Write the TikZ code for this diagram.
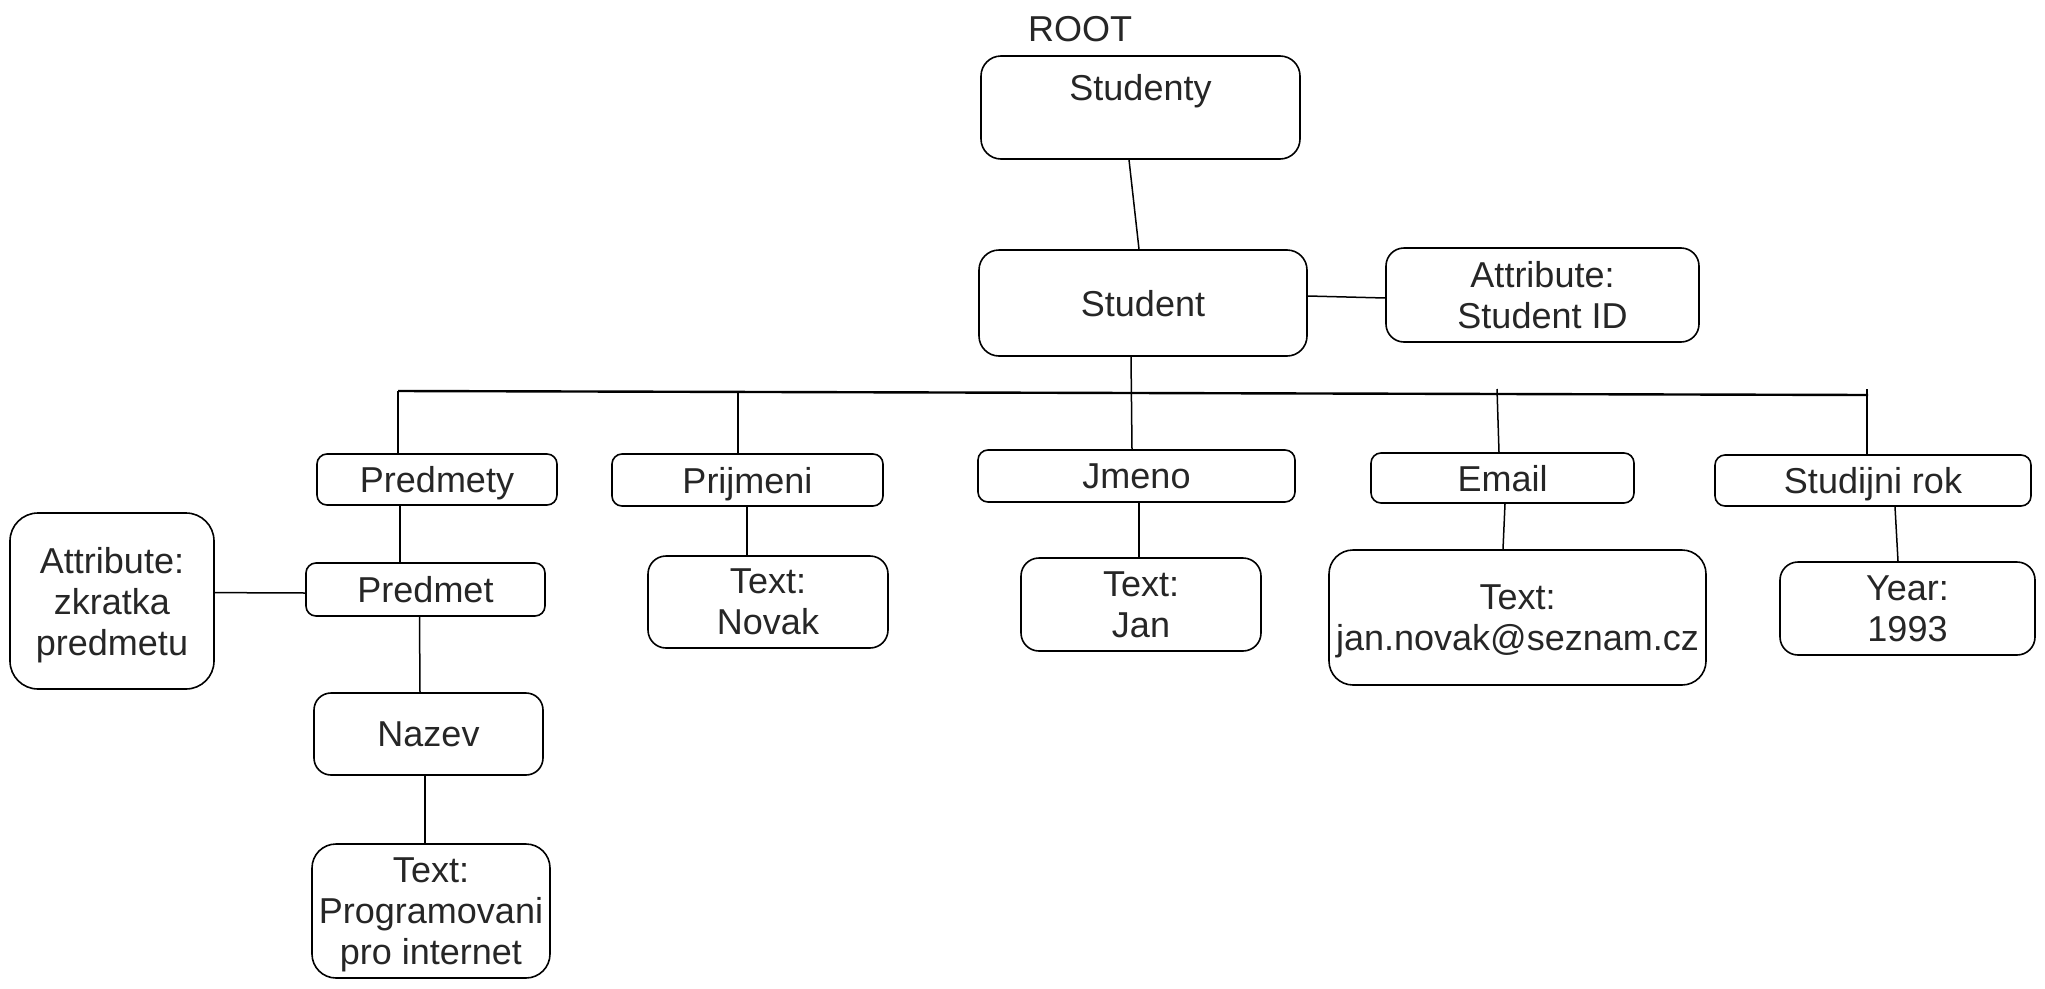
\documentclass[tikz,border=0pt]{standalone}
\usepackage{fontspec}
\setmainfont{Liberation Sans}
\definecolor{txt}{HTML}{262626}
\begin{document}
\begin{tikzpicture}[x=1pt,y=-1pt,
  nbox/.style={draw=black, line width=1.6pt, rounded corners=#1, inner sep=0pt,
    align=center, text=txt, text depth=0pt, font=\fontsize{36}{41}\selectfont},
  nbox/.default=10pt,
  plain/.style={inner sep=0pt, text=txt, text depth=0pt, font=\fontsize{36}{41}\selectfont},
  conn/.style={line width=1.5pt, draw=black},
  bus/.style={line width=2.4pt, draw=black}]
\useasboundingbox (0,0) rectangle (2045,988);

\node[plain] (root) at (1080,29) {ROOT};

\node[nbox=20pt, minimum width=319pt, minimum height=103pt] (studenty) at (1140.5,107.5) {};
\node[plain] (studentytext) at (1140.5,87) {Studenty};

\node[nbox=20pt, minimum width=328pt, minimum height=106pt] (student) at (1143,303) {Student};
\node[nbox=18pt, minimum width=313pt, minimum height=94pt] (attrid) at (1542.5,295) {Attribute:\\Student ID};

\node[nbox, minimum width=240pt, minimum height=51pt] (predmety) at (437,479.5) {Predmety};
\node[nbox, minimum width=271pt, minimum height=52pt] (prijmeni) at (747.5,480) {Prijmeni};
\node[nbox, minimum width=317pt, minimum height=52pt] (jmeno) at (1136.5,476) {Jmeno};
\node[nbox, minimum width=263pt, minimum height=50pt] (email) at (1502.5,478) {Email};
\node[nbox, minimum width=316pt, minimum height=51pt] (rok) at (1873,480.5) {Studijni rok};

\node[nbox, minimum width=239pt, minimum height=53pt] (predmet) at (425.5,589.5) {Predmet};
\node[nbox=28pt, minimum width=204pt, minimum height=176pt] (zkratka) at (112,601) {Attribute:\\zkratka\\predmetu};
\node[nbox=17pt, minimum width=229pt, minimum height=82pt] (nazev) at (428.5,734) {Nazev};
\node[nbox=24pt, minimum width=238pt, minimum height=134pt] (prog) at (431,911) {Text:\\Programovani\\pro internet};

\node[nbox=18pt, minimum width=240pt, minimum height=92pt] (novak) at (768,602) {Text:\\Novak};
\node[nbox=18pt, minimum width=240pt, minimum height=93pt] (jan) at (1141,604.5) {Text:\\Jan};
\node[nbox=24pt, minimum width=377pt, minimum height=135pt] (emailtext) at (1517.5,617.5) {Text:\\jan.novak@seznam.cz};
\node[nbox=18pt, minimum width=255pt, minimum height=93pt] (year) at (1907.5,608.5) {Year:\\1993};

% upper connectors
\draw[conn] ([xshift=-11.5pt]studenty.south) -- ([xshift=-4pt]student.north);
\draw[conn] ([yshift=7pt]student.east) -- ([yshift=-3pt]attrid.west);
\draw[conn] ([xshift=-12pt]student.south) -- ([xshift=-4.5pt]jmeno.north);

% bus
\coordinate (busL) at (398,391);
\coordinate (busR) at (1868,395);
\coordinate (tapB) at (738,392);
\coordinate (tapD) at (1497,389);
\coordinate (tapE) at (1867,389);
\draw[bus] (busL) -- (busR);
\draw[conn] (busL) -- (busL |- predmety.north);
\draw[conn] (tapB) -- (tapB |- prijmeni.north);
\draw[conn] (tapD) -- ([xshift=-3.5pt]email.north);
\draw[conn] (tapE) -- ([xshift=-6pt]rok.north);

% left branch
\draw[conn] ([xshift=-37pt]predmety.south) -- ([xshift=-25.5pt]predmet.north);
\draw[conn] ([yshift=8.4pt]zkratka.east) -- ([yshift=-3.5pt]predmet.west);
\draw[conn] ([xshift=-6pt]predmet.south) -- ([xshift=-8.5pt]nazev.north);
\draw[conn] ([xshift=-3.5pt]nazev.south) -- ([xshift=-6pt]prog.north);

% other leaves
\draw[conn] ([xshift=-0.5pt]prijmeni.south) -- ([xshift=-21pt]novak.north);
\draw[conn] ([xshift=2.5pt]jmeno.south) -- ([xshift=-2pt]jan.north);
\draw[conn] ([xshift=2.5pt]email.south) -- ([xshift=-14.5pt]emailtext.north);
\draw[conn] ([xshift=22pt]rok.south) -- ([xshift=-9.5pt]year.north);
\end{tikzpicture}
\end{document}
